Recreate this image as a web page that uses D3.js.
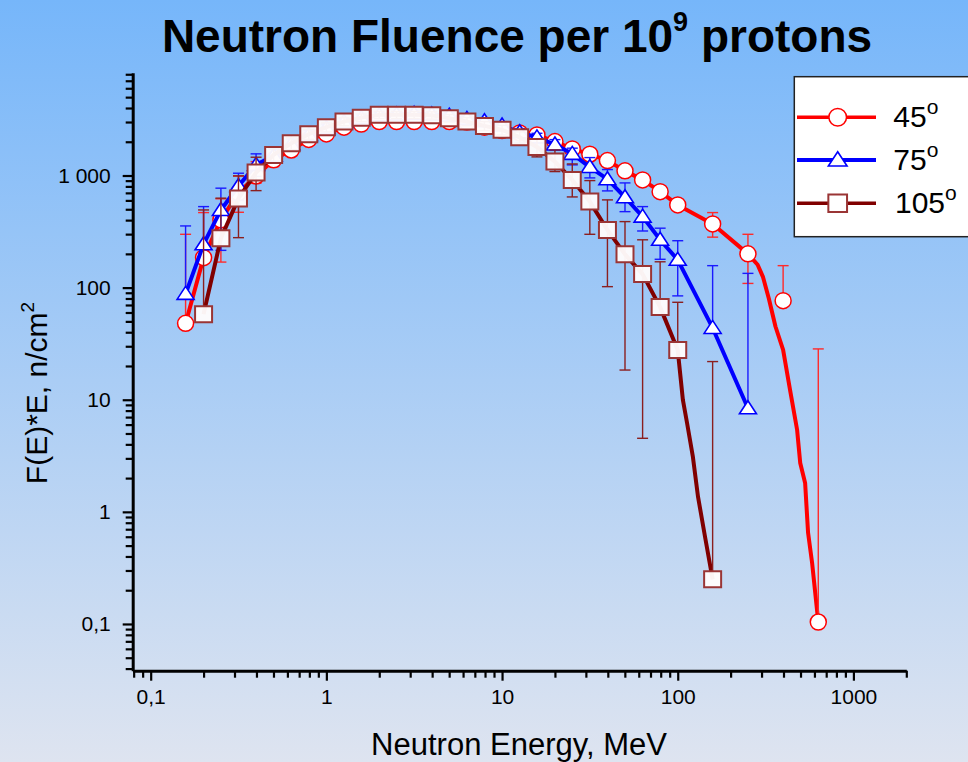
<!DOCTYPE html>
<html><head><meta charset="utf-8">
<script src="https://cdn.jsdelivr.net/npm/d3@7"></script>
<style>html,body{margin:0;padding:0;overflow:hidden;background:#fff;} svg{display:block;font-family:"Liberation Sans",Arial,sans-serif;}</style>
</head><body><svg id="chart" width="968" height="762"></svg>
<script>
// ---------- DATA ----------
const xTickValues = [0.1, 1, 10, 100, 1000];
const xTickLabels = ["0,1", "1", "10", "100", "1000"];
const yTickValues = [0.1, 1, 10, 100, 1000];
const yTickLabels = ["0,1", "1", "10", "100", "1 000"];

const seriesNames = ["45", "75", "105"];

const energy45 = [0.158,0.2,0.251,0.316,0.398,0.501,0.631,0.794,1,1.26,1.58,2,2.51,3.16,3.98,5.01,6.31,7.94,10,12.6,15.8,20,25.1,31.6,39.8,50.1,63.1,79.4,100,158,251,398,631];
const flux45 = [48,185,402,700,990,1380,1690,2100,2350,2700,2880,3030,3030,3030,3030,3030,3000,2700,2520,2400,2300,2006,1727,1549,1358,1100,914,718,547,370,200,76.5,0.104];
const lo45 = [null,null,169,470,854,1200,1500,1950,2200,2550,2720,2870,2870,2870,2870,2870,2840,2550,2380,2260,2170,1890,1620,1450,1270,1020,840,650,490,282,109,null,null];
const hi45 = [299,467,620,990,1330,1580,1900,2260,2500,2860,3050,3200,3200,3200,3200,3200,3170,2860,2670,2540,2440,2130,1840,1650,1450,1180,990,790,610,467,299,157,28.4];
// fine line tail of the 45 deg spectrum beyond 250 MeV
const tail45E = [285,306,330,360,398,436,478,498,531,552,582,631];
const tail45V = [160,124,80,45,27.8,12.2,5.4,2.73,1.81,0.65,0.35,0.104];

const energy75 = [0.158,0.2,0.251,0.316,0.398,0.501,0.631,0.794,1,1.26,1.58,2,2.51,3.16,3.98,5.01,6.31,7.94,10,12.6,15.8,20,25.1,31.6,39.8,50.1,63.1,79.4,100,158,251];
const flux75 = [88,244,493,807,1244,1500,1900,2300,2650,3000,3250,3450,3500,3550,3500,3420,3200,3050,2790,2430,2190,1890,1560,1190,927,640,430,267,177,43.7,8.4];
const lo75 = [null,null,215,600,980,1300,1700,2100,2450,2800,3050,3250,3300,3350,3300,3220,3010,2860,2600,2250,2010,1700,1244,952,729,476,320,179,84.4,null,null];
const hi75 = [355,528,771,1048,1560,1720,2120,2520,2870,3220,3470,3670,3720,3760,3720,3630,3400,3250,2990,2620,2380,2090,1753,1445,1130,859,528,339,262,157,134];

const energy105 = [0.2,0.251,0.316,0.398,0.501,0.631,0.794,1,1.26,1.58,2,2.51,3.16,3.98,5.01,6.31,7.94,10,12.6,15.8,20,25.1,31.6,39.8,50.1,63.1,79.4,100,158];
const flux105 = [58,276,625,1061,1527,1941,2336,2698,3027,3283,3474,3474,3474,3446,3246,3027,2770,2553,2197,1799,1330,914,585,327,198,132,67,27.8,0.25];
const lo105 = [null,null,279,733,1300,1700,2100,2450,2780,3030,3220,3220,3220,3190,3000,2780,2520,2300,1950,1466,1084,644,299,102,18.4,4.53,null,null,null];
const hi105 = [493,628,992,1456,1760,2180,2570,2950,3280,3540,3730,3730,3730,3700,3500,3280,3020,2800,2450,2130,1690,1268,901,606,388,267,170,74,21.9];
// fine line tail of the 105 deg spectrum beyond 100 MeV
const tail105E = [107,113,122,130.5,143,158];
const tail105V = [9.96,6.2,3.09,1.36,0.6,0.25];

// ---------- CHART ----------
const W = 968, H = 762;
const svg = d3.select('#chart');
const defs = svg.append('defs');
const grad = defs.append('linearGradient').attr('id','bg').attr('x1',0).attr('y1',0).attr('x2',0).attr('y2',1);
grad.append('stop').attr('offset','0%').attr('stop-color','#76b6fa');
grad.append('stop').attr('offset','100%').attr('stop-color','#dee4f0');
svg.append('rect').attr('width',W).attr('height',H).attr('fill','url(#bg)');

const x = d3.scaleLog().domain([0.079, 2000]).range([132.7, 906.3]);
const y = d3.scaleLog().domain([0.0383, 8260]).range([670.7, 72.7]);

const isMajor = v => Math.abs(Math.log10(v) - Math.round(Math.log10(v))) < 1e-9;
const xMinor = x.ticks().filter(v => !isMajor(v));
const yMinor = y.ticks().filter(v => !isMajor(v));

function styleAxis(g, showDomain) {
  g.selectAll('.tick line').attr('stroke','#000').attr('stroke-width',2.2);
  g.selectAll('text').attr('font-size',21).attr('fill','#000').attr('font-family','"Liberation Sans",Arial,sans-serif');
  if (showDomain) g.select('.domain').attr('stroke','#000').attr('stroke-width',3);
  else g.select('.domain').remove();
}

// x axis
const gxMinor = svg.append('g').attr('transform','translate(0,670.7)')
  .call(d3.axisBottom(x).tickValues(xMinor).tickSize(7).tickSizeOuter(0).tickFormat(''));
styleAxis(gxMinor, false);
const gx = svg.append('g').attr('transform','translate(0,670.7)')
  .call(d3.axisBottom(x).tickValues(xTickValues).tickSize(10).tickSizeOuter(0).tickPadding(8)
    .tickFormat((d,i) => xTickLabels[i]));
styleAxis(gx, true);

// y axis
const gyMinor = svg.append('g').attr('transform','translate(132.7,0)')
  .call(d3.axisLeft(y).tickValues(yMinor).tickSize(7).tickSizeOuter(0).tickFormat(''));
styleAxis(gyMinor, false);
const gy = svg.append('g').attr('transform','translate(132.7,0)')
  .call(d3.axisLeft(y).tickValues(yTickValues).tickSize(10).tickSizeOuter(0).tickPadding(12)
    .tickFormat((d,i) => yTickLabels[i]));
styleAxis(gy, true);

// titles
const title = svg.append('text').attr('x',517).attr('y',52).attr('text-anchor','middle')
  .attr('font-size',46).attr('font-weight','bold').attr('fill','#000');
title.append('tspan').text('Neutron Fluence per 10');
title.append('tspan').attr('font-size',27).attr('dy',-21).text('9');
title.append('tspan').attr('dy',21).text(' protons');

svg.append('text').attr('x',519).attr('y',755).attr('text-anchor','middle')
  .attr('font-size',31).attr('fill','#000').text('Neutron Energy, MeV');

const yt = svg.append('text').attr('transform','translate(47,393) rotate(-90)')
  .attr('text-anchor','middle').attr('font-size',30).attr('fill','#000');
yt.append('tspan').text('F(E)*E, n/cm');
yt.append('tspan').attr('font-size',19).attr('dy',-13).text('2');

// series
const line = d3.line().x(d => x(d[0])).y(d => y(d[1]));

function markerPath(kind, s) {
  if (kind === 'tri') return `M0,${-7.5*s} L${8.5*s},${5.5*s} L${-8.5*s},${5.5*s} Z`;
  return `M${-8.5*s},${-8*s} H${8.5*s} V${8*s} H${-8.5*s} Z`;
}

function drawMarker(g, kind, cx, cy, s, stroke, fill) {
  if (kind === 'circle') {
    g.append('circle').attr('cx',cx).attr('cy',cy).attr('r',8*s)
      .attr('fill',fill).attr('stroke',stroke).attr('stroke-width',1.5);
  } else {
    g.append('path').attr('d',markerPath(kind,s)).attr('transform',`translate(${cx},${cy})`)
      .attr('fill',fill).attr('stroke',stroke).attr('stroke-width', kind==='tri'?1.6:2);
  }
}

function drawSeries(E, V, lo, hi, lineE, lineV, opt) {
  const g = svg.append('g');
  const lpts = lineE.map((e,i) => [e, lineV[i]]);
  g.append('path').attr('d', line(lpts)).attr('fill','none')
    .attr('stroke', opt.line).attr('stroke-width', 4).attr('stroke-linejoin','round');
  const cap = 5.5;
  E.forEach((e,i) => {
    const cx = x(e);
    const top = hi[i] != null ? y(hi[i]) : y(V[i]);
    const bot = lo[i] != null ? y(lo[i]) : y(V[i]);
    g.append('line').attr('x1',cx).attr('x2',cx).attr('y1',top).attr('y2',bot)
      .attr('stroke',opt.err).attr('stroke-width',1.4);
    if (hi[i] != null) g.append('line').attr('x1',cx-cap).attr('x2',cx+cap).attr('y1',top).attr('y2',top)
      .attr('stroke',opt.err).attr('stroke-width',1.4);
    if (lo[i] != null) g.append('line').attr('x1',cx-cap).attr('x2',cx+cap).attr('y1',bot).attr('y2',bot)
      .attr('stroke',opt.err).attr('stroke-width',1.4);
  });
  E.forEach((e,i) => drawMarker(g, opt.kind, x(e), y(V[i]), 1, opt.mstroke, opt.mfill));
}

const line45E = energy45.filter(e => e <= 251).concat(tail45E);
const line45V = flux45.filter((v,i) => energy45[i] <= 251).concat(tail45V);
const line105E = energy105.filter(e => e <= 100).concat(tail105E);
const line105V = flux105.filter((v,i) => energy105[i] <= 100).concat(tail105V);

const styles = [
  {kind:'circle', line:'#ff0000', err:'#ff2a2a', mstroke:'#ff0000', mfill:'#ffffff'},
  {kind:'tri', line:'#0000ff', err:'#1a1aff', mstroke:'#0000ff', mfill:'#ffffff'},
  {kind:'sq', line:'#800000', err:'#8b1f1f', mstroke:'#9a3535', mfill:'rgba(255,252,252,0.96)'}
];

drawSeries(energy45, flux45, lo45, hi45, line45E, line45V, styles[0]);
drawSeries(energy75, flux75, lo75, hi75, energy75, flux75, styles[1]);
drawSeries(energy105, flux105, lo105, hi105, line105E, line105V, styles[2]);

// legend
const lg = svg.append('g');
lg.append('rect').attr('x',794.3).attr('y',76.7).attr('width',210).attr('height',160)
  .attr('fill','#ffffff').attr('stroke','#222').attr('stroke-width',1.5);
const rowsY = [117.3, 160, 203.3];
seriesNames.forEach((name, i) => {
  const st = styles[i];
  lg.append('line').attr('x1',797).attr('x2',876).attr('y1',rowsY[i]).attr('y2',rowsY[i])
    .attr('stroke',st.line).attr('stroke-width', i===1?4:3.5);
  drawMarker(lg, st.kind, 837.7, rowsY[i], 1.1, st.mstroke, '#ffffff');
  const t = lg.append('text').attr('x', i===2?895:893.3).attr('y', rowsY[i]+9.5)
    .attr('font-size',30).attr('fill','#000');
  t.append('tspan').text(name);
  t.append('tspan').attr('font-size',21).attr('dy',-12.7).text('o');
});
</script>
</body></html>
